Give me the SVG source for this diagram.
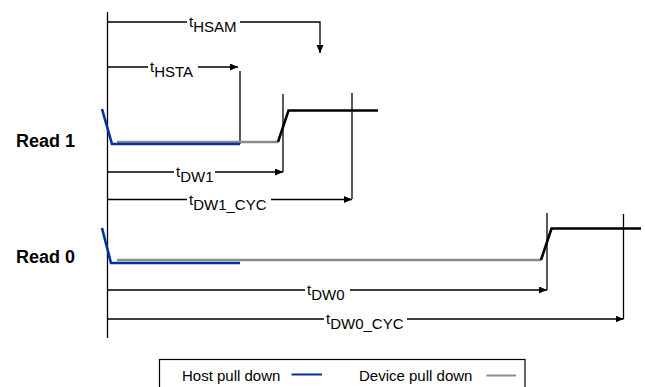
<svg xmlns="http://www.w3.org/2000/svg" width="645" height="387" viewBox="0 0 645 387">
  <style>
    .ref { fill: none; stroke: #000; stroke-width: 1.3; }
    .dim { fill: none; stroke: #000; stroke-width: 1.3; }
    .host { fill: none; stroke: #00339F; stroke-width: 2.6; stroke-linejoin: miter; }
    .dev { fill: none; stroke: #8C8C8C; stroke-width: 2.6; }
    .bus { fill: none; stroke: #000; stroke-width: 2.6; stroke-linejoin: miter; }
    .lbl { font-family: "Liberation Sans", Arial, sans-serif; font-size: 15px; fill: #000; }
    .row { font-family: "Liberation Sans", Arial, sans-serif; font-size: 18px; font-weight: bold; fill: #000; }
    .leg { font-family: "Liberation Sans", Arial, sans-serif; font-size: 15px; fill: #000; }
  </style>
  <defs>
    <marker id="arr" markerUnits="userSpaceOnUse" markerWidth="9" markerHeight="8" refX="8" refY="3.5" orient="auto">
      <path d="M0,0 L8,3.5 L0,7 Z" fill="#000"/>
    </marker>
  </defs>

  <rect width="645" height="387" fill="#fff"/>

  <!-- time reference lines -->
  <g id="reference-lines">
    <line class="ref" x1="107.5" y1="12" x2="107.5" y2="338"/>
    <line class="ref" x1="240" y1="71" x2="240" y2="144"/>
    <line class="ref" x1="283" y1="94" x2="283" y2="172"/>
    <line class="ref" x1="352" y1="93" x2="352" y2="199"/>
    <line class="ref" x1="547" y1="213" x2="547" y2="290"/>
    <line class="ref" x1="623.5" y1="214" x2="623.5" y2="319"/>
  </g>

  <!-- Read 1 slot -->
  <g id="read1">
    <text class="row" x="16" y="147">Read 1</text>
    <polyline class="dev" points="117,142 278,142"/>
    <polyline class="bus" points="278,142 288.5,110.5 378,110.5"/>
    <polyline class="host" points="102,109 112,144 240,144"/>
  </g>

  <!-- Read 0 slot -->
  <g id="read0">
    <text class="row" x="16" y="263">Read 0</text>
    <polyline class="dev" points="117,260 541,260"/>
    <polyline class="bus" points="541,260 551.5,228.5 641,228.5"/>
    <polyline class="host" points="102,228 111,263 240,263"/>
  </g>

  <!-- timing intervals -->
  <g id="connectors">
    <path class="dim" d="M107.5,22 H187 M240,22 H320 V53" marker-end="url(#arr)"/>
    <path class="dim" d="M107.5,67 H148 M198,67 H238" marker-end="url(#arr)"/>
    <path class="dim" d="M107.5,172 H174 M215,172 H283" marker-end="url(#arr)"/>
    <path class="dim" d="M107.5,199.5 H187 M271,199.5 H352" marker-end="url(#arr)"/>
    <path class="dim" d="M107.5,290 H305 M350,290 H547" marker-end="url(#arr)"/>
    <path class="dim" d="M107.5,319 H324 M407,319 H623.5" marker-end="url(#arr)"/>
  </g>

  <g id="interval-labels">
    <text class="lbl" x="189" y="27">t<tspan dy="5">HSAM</tspan></text>
    <text class="lbl" x="150" y="72">t<tspan dy="5">HSTA</tspan></text>
    <text class="lbl" x="176" y="177">t<tspan dy="5">DW1</tspan></text>
    <text class="lbl" x="189" y="204.5">t<tspan dy="5">DW1_CYC</tspan></text>
    <text class="lbl" x="307" y="295">t<tspan dy="5">DW0</tspan></text>
    <text class="lbl" x="326" y="324">t<tspan dy="5">DW0_CYC</tspan></text>
  </g>

  <!-- legend -->
  <g id="legend">
    <rect x="159.5" y="359.5" width="365.5" height="40" fill="#fff" stroke="#000" stroke-width="1.2"/>
    <text class="leg" x="182" y="380.5">Host pull down</text>
    <line x1="291.5" y1="374.5" x2="322" y2="374.5" stroke="#00339F" stroke-width="2"/>
    <text class="leg" x="359" y="380.5">Device pull down</text>
    <line x1="486.5" y1="375.5" x2="516" y2="375.5" stroke="#8C8C8C" stroke-width="2"/>
  </g>
</svg>
